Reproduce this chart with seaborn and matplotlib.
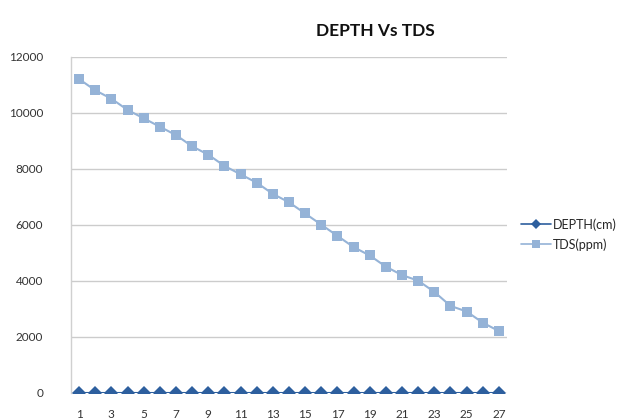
import numpy as np
import pandas as pd
import seaborn as sns
import matplotlib.pyplot as plt

# values
samples = list(range(1, 28))
depth_cm = [0] * 27
tds_ppm = [11200, 10800, 10500, 10100, 9800, 9500, 9200, 8800, 8500, 8100,
           7800, 7500, 7100, 6800, 6400, 6000, 5600, 5200, 4900, 4500,
           4200, 4000, 3600, 3100, 2900, 2500, 2200]
y_ticks = [0, 2000, 4000, 6000, 8000, 10000, 12000]

df = pd.DataFrame({"sample": samples, "DEPTH(cm)": depth_cm, "TDS(ppm)": tds_ppm})

sns.set_style("white")
plt.rcParams['font.family'] = ['Lato', 'DejaVu Sans']

fig = plt.figure(figsize=(6.43, 4.2), dpi=100)
ax = fig.add_axes([71 / 643, 1 - 392.7 / 420, 436 / 643, (392.7 - 56.7) / 420])

sns.lineplot(data=df, x="sample", y="DEPTH(cm)", ax=ax, color="#2D5F9E",
             marker="D", markersize=7.5, markeredgewidth=0, linewidth=1.5,
             label="DEPTH(cm)", zorder=4)
sns.lineplot(data=df, x="sample", y="TDS(ppm)", ax=ax, color="#95B3D7",
             marker="s", markersize=7.5, markeredgewidth=0, linewidth=1.5,
             label="TDS(ppm)", zorder=3)

ax.set_xlim(0.5, 27.5)
ax.set_ylim(0, 12000)
ax.set_yticks(y_ticks)
ax.set_yticklabels([str(v) for v in y_ticks])
ax.set_xticks(samples[::2])
ax.set_xticklabels([str(v) for v in samples[::2]])
ax.tick_params(axis="both", length=0, labelsize=8.5, colors="#333333")
ax.tick_params(axis="y", pad=20)
ax.tick_params(axis="x", pad=12)
ax.yaxis.grid(True, color="#cccccc", linewidth=1)
ax.set_axisbelow(True)
ax.set_xlabel("")
ax.set_ylabel("")
for side in ["top", "right", "bottom"]:
    ax.spines[side].set_visible(False)
ax.spines["left"].set_color("#d0d0d0")
ax.spines["left"].set_linewidth(1)

leg = ax.legend(loc="center left", bbox_to_anchor=(1.02, 0.471), frameon=False,
                fontsize=9, handlelength=2.4, handletextpad=0.2, labelspacing=0.6,
                borderaxespad=0, markerscale=0.7)
for line in leg.get_lines():
    line.set_linewidth(1.2)

fig.text(375 / 643, 1 - 31 / 420, "DEPTH Vs TDS", ha="center", va="center",
         fontsize=12.5, fontweight="bold", color="#111111")

fig.savefig("out.png", dpi=100)
